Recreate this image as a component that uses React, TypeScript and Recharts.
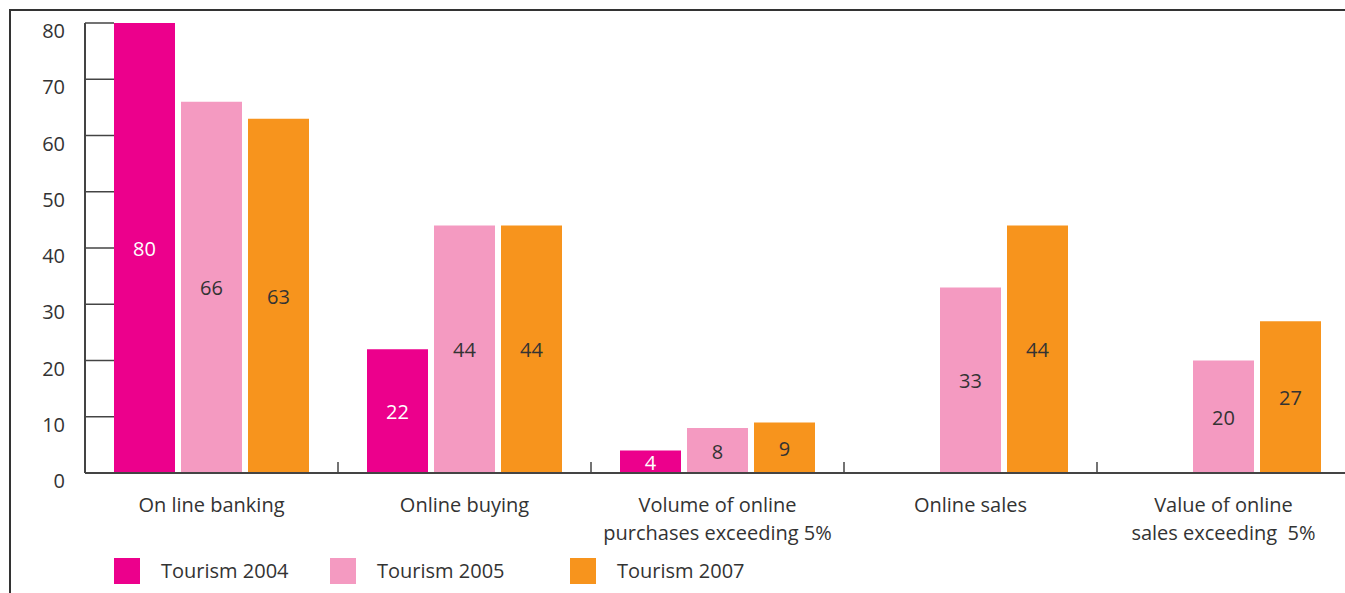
import React from 'react';
import { BarChart, Bar, XAxis, YAxis, Legend, LabelList } from 'recharts';

const categories = [
  'On line banking',
  'Online buying',
  'Volume of online purchases exceeding 5%',
  'Online sales',
  'Value of online sales exceeding  5%',
];
const categoryLines = [
  ['On line banking'],
  ['Online buying'],
  ['Volume of online', 'purchases exceeding 5%'],
  ['Online sales'],
  ['Value of online', 'sales exceeding  5%'],
];
const tourism2004 = [80, 22, 4, null, null];
const tourism2005 = [66, 44, 8, 33, 20];
const tourism2007 = [63, 44, 9, 44, 27];
const yTicks = [0, 10, 20, 30, 40, 50, 60, 70, 80];

const seriesNames = ['Tourism 2004', 'Tourism 2005', 'Tourism 2007'];
const colors = ['#EC008C', '#F49AC1', '#F7941D'];
const labelColors = ['#ffffff', '#333333', '#333333'];

const chartData = categories.map((name, i) => ({
  name,
  'Tourism 2004': tourism2004[i],
  'Tourism 2005': tourism2005[i],
  'Tourism 2007': tourism2007[i],
}));

const FONT = '"Open Sans", "Noto Sans", sans-serif';
const BAND = 253;

const YTick = (props: any) => {
  const { x, y, payload } = props;
  return (
    <g>
      <text x={x} y={y + 15} textAnchor="end" fontSize={20} fill="#333" fontFamily={FONT}>
        {payload.value}
      </text>
      {payload.value > 0 && (
        <line x1={x + 20} x2={x + 49} y1={y} y2={y} stroke="#444" strokeWidth={1.5} />
      )}
    </g>
  );
};

const XTick = (props: any) => {
  const { x, payload, index } = props;
  const lines: string[] = categoryLines[index] || [payload.value];
  return (
    <g>
      {index < categories.length - 1 && (
        <line x1={x + BAND / 2} x2={x + BAND / 2} y1={473} y2={462} stroke="#444" strokeWidth={1.5} />
      )}
      {lines.map((l, i) => (
        <text
          key={i}
          x={x}
          y={512 + i * 28}
          textAnchor="middle"
          fontSize={20}
          fill="#333"
          fontFamily={FONT}
          style={{ whiteSpace: 'pre' }}
        >
          {l}
        </text>
      ))}
    </g>
  );
};

const LegendContent = () => {
  const widths = [216, 240, 200];
  return (
    <div style={{ display: 'flex', paddingLeft: 114, paddingTop: 9, fontFamily: FONT, fontSize: 20, color: '#333' }}>
      {seriesNames.map((n, i) => (
        <div key={n} style={{ display: 'flex', alignItems: 'center', width: widths[i] }}>
          <span style={{ display: 'inline-block', width: 26, height: 26, background: colors[i], marginRight: 21 }} />
          <span>{n}</span>
        </div>
      ))}
    </div>
  );
};

const App = () => {
  return (
    <div style={{ position: 'relative', width: 1345, height: 593, overflow: 'hidden', background: '#fff' }}>
      <style>{`body{margin:0}`}</style>
      <div
        style={{
          position: 'absolute',
          left: 9,
          top: 9,
          width: 2000,
          height: 2000,
          borderLeft: '2px solid #333',
          borderTop: '2px solid #333',
        }}
      />
      <div style={{ position: 'absolute', left: 0, top: 0 }}>
        <BarChart
          width={1350}
          height={593}
          data={chartData}
          margin={{ top: 23, right: 0, left: 0, bottom: 5 }}
          barCategoryGap={29}
          barGap={6}
        >
          <XAxis
            dataKey="name"
            height={75}
            interval={0}
            tick={<XTick />}
            tickLine={false}
            axisLine={{ stroke: '#444', strokeWidth: 2 }}
          />
          <YAxis
            width={85}
            domain={[0, 80]}
            ticks={yTicks}
            interval={0}
            tick={<YTick />}
            tickLine={false}
            tickSize={0}
            tickMargin={20}
            axisLine={{ stroke: '#444', strokeWidth: 2 }}
          />
          <Legend verticalAlign="bottom" height={40} content={<LegendContent />} />
          {seriesNames.map((n, i) => (
            <Bar key={n} dataKey={n} fill={colors[i]} isAnimationActive={false}>
              <LabelList
                dataKey={n}
                position="center"
                fill={labelColors[i]}
                fontSize={20}
                fontFamily={FONT}
                dy={1}
              />
            </Bar>
          ))}
        </BarChart>
      </div>
    </div>
  );
};

export default App;
